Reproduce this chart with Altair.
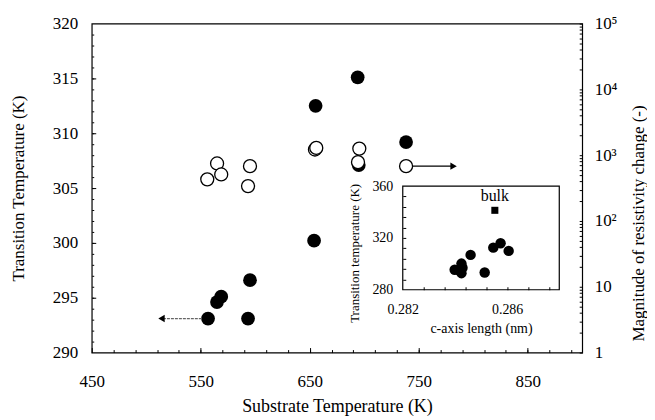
import altair as alt
import pandas as pd

# ---------------- data ----------------
# Transition temperature (filled circles, left axis)
tc_substrate = [556.7, 564.9, 568.8, 593.4, 595.2, 654.0, 655.4, 694.0, 695.0, 738.4]
tc_values = [293.1, 294.6, 295.1, 293.1, 296.6, 300.2, 312.5, 315.1, 307.1, 309.2]

# Magnitude of resistivity change (open circles, right log axis)
res_substrate = [556.0, 565.0, 568.8, 593.4, 595.2, 654.8, 656.0, 694.3, 695.5, 738.4]
res_values = [429, 749, 509, 339, 681, 1220, 1290, 783, 1260, 681]

# Inset: transition temperature vs c-axis length
inset_c = [0.28399, 0.28416, 0.28425, 0.28429, 0.28425, 0.28460, 0.28514, 0.28547, 0.28575, 0.28606]
inset_tc = [295.4, 295.1, 300.2, 297.0, 292.8, 306.9, 293.3, 312.5, 315.9, 310.0]
bulk_c = [0.28553]
bulk_tc = [341.3]
bulk_label = ["bulk"]
bulk_label_tc = [352.0]

# Arrows (start, end) in data units
arrow_left_x = [551.0, 514.0]
arrow_left_y = [293.1]
arrow_right_x = [744.0, 782.0]
arrow_right_y = [681.0]

# Axis domains / ticks
x_domain = [450, 900]
y_domain = [290, 320]
r_domain = [1, 100000]
c_domain = [0.282, 0.288]
ti_domain = [280, 360]

x_labels = [450, 550, 650, 750, 850]
y_labels = [290, 295, 300, 305, 310, 315, 320]
r_labels = [1, 10, 100, 1000, 10000, 100000]
c_labels = [0.282, 0.286]
ti_labels = [280, 320, 360]

x_minor = list(range(470, 900, 20))
x_major = list(range(450, 900, 100))
y_minor = list(range(291, 320))
y_major = list(range(295, 320, 5))
r_ticks = [m * 10 ** k for k in range(0, 5) for m in range(1, 10)] + [100000]
c_ticks = [round(0.282 + 0.0008 * i, 4) for i in range(1, 8)]
ti_ticks = list(range(288, 360, 8))

W, H = 492, 330
INSET_X = [312, 469]
INSET_Y = [267, 163]

FONT = "Liberation Serif"

# ---------------- tables ----------------
df_tc = pd.DataFrame({"T": tc_substrate, "Tc": tc_values})
df_res = pd.DataFrame({"T": res_substrate, "R": res_values})
df_inset = pd.DataFrame({"c": inset_c, "tc": inset_tc})
df_bulk = pd.DataFrame({"c": bulk_c, "tc": bulk_tc})
df_bulk_lbl = pd.DataFrame({"c": bulk_c, "tc": bulk_label_tc, "t": bulk_label})
df_frame = pd.DataFrame({"c0": [c_domain[0]], "c1": [c_domain[1]],
                         "t0": [ti_domain[0]], "t1": [ti_domain[1]]})
df_al = pd.DataFrame({"x0": [arrow_left_x[0]], "x1": [arrow_left_x[1]], "y": arrow_left_y})
df_ar = pd.DataFrame({"x0": [arrow_right_x[0]], "x1": [arrow_right_x[1]], "y": arrow_right_y})


def sx():
    return alt.Scale(domain=x_domain, nice=False, zero=False)


def sy():
    return alt.Scale(domain=y_domain, nice=False, zero=False)


def sr():
    return alt.Scale(type="log", domain=r_domain, nice=False)


def sc():
    return alt.Scale(domain=c_domain, range=INSET_X, nice=False, zero=False)


def st():
    return alt.Scale(domain=ti_domain, range=INSET_Y, nice=False, zero=False)


def tick_axis(orient, offset, values, size):
    return alt.Axis(orient=orient, offset=offset, values=values, tickSize=size,
                    labels=False, domain=False, grid=False, title=None,
                    tickColor="black", tickWidth=1)


# ---------------- layers ----------------
frame = alt.Chart(df_frame).mark_rect(filled=False, stroke="black", strokeWidth=1.2).encode(
    x=alt.X("c0:Q", scale=sc(), axis=alt.Axis(
        orient="bottom", offset=-(H - INSET_Y[0]), values=c_labels, format=".3f",
        ticks=False, domain=False, grid=False, labelFlush=False, labelPadding=13,
        labelFontSize=14, title="c-axis length (nm)", titleFontSize=14, titlePadding=5)),
    x2="c1:Q",
    y=alt.Y("t0:Q", scale=st(), axis=alt.Axis(
        orient="left", offset=-INSET_X[0], values=ti_labels, ticks=False, domain=False,
        grid=False, labelPadding=10, labelFontSize=14, title="Transition temperature (K)",
        titleFontSize=13, titlePadding=10, titleY=230)),
    y2="t1:Q",
)

filled_pts = alt.Chart(df_tc).mark_point(shape="circle", filled=True, color="black",
                                         size=190, opacity=1).encode(
    x=alt.X("T:Q", scale=sx(), axis=alt.Axis(
        orient="bottom", values=x_labels, ticks=False, domain=False, grid=False,
        labelFlush=False, labelPadding=21, title="Substrate Temperature (K)",
        titleFontSize=18, titlePadding=8)),
    y=alt.Y("Tc:Q", scale=sy(), axis=alt.Axis(
        orient="left", values=y_labels, ticks=False, domain=False, grid=False,
        labelPadding=14, title="Transition Temperature (K)", titlePadding=25)),
)

open_pts = alt.Chart(df_res).mark_point(shape="circle", filled=True, fill="white",
                                        stroke="black", strokeWidth=1.3, size=170,
                                        opacity=1).encode(
    x=alt.X("T:Q", scale=sx(), axis=tick_axis("top", -H, x_minor, 3)),
    y=alt.Y("R:Q", scale=sr(), axis=alt.Axis(
        orient="right", values=r_labels, ticks=False, domain=False, grid=False,
        labelPadding=12, labelAlign="left",
        labelExpr="datum.value == 1 ? '1' : datum.value == 10 ? '10' : "
                  "datum.value == 100 ? '10²' : datum.value == 1000 ? '10³' : "
                  "datum.value == 10000 ? '10⁴' : '10⁵'",
        title="Magnitude of resistivity change (-)", titleAngle=270,
        titlePadding=31, titleY=200)),
)

arrow_l = alt.Chart(df_al).mark_rule(color="#666666", strokeWidth=1.3,
                                     strokeDash=[3, 1]).encode(
    x=alt.X("x0:Q", scale=sx(), axis=tick_axis("top", -H, x_major, 5)),
    x2="x1:Q",
    y=alt.Y("y:Q", scale=sy(), axis=tick_axis("right", -W, y_minor, 2)),
)

arrow_l_head = alt.Chart(df_al).mark_point(shape="triangle-left", filled=True,
                                           color="black", size=55, opacity=1).encode(
    x=alt.X("x1:Q", scale=sx(), axis=None),
    y=alt.Y("y:Q", scale=sy(), axis=tick_axis("right", -W, y_major, 4)),
)

arrow_r = alt.Chart(df_ar).mark_rule(color="black", strokeWidth=1.3).encode(
    x=alt.X("x0:Q", scale=sx(), axis=None),
    x2="x1:Q",
    y=alt.Y("y:Q", scale=sr(), axis=tick_axis("left", -W, r_ticks, 3)),
)

arrow_r_head = alt.Chart(df_ar).mark_point(shape="triangle-right", filled=True,
                                           color="black", size=55, opacity=1).encode(
    x=alt.X("x1:Q", scale=sx(), axis=None),
    y=alt.Y("y:Q", scale=sr(), axis=None),
)

inset_pts = alt.Chart(df_inset).mark_point(shape="circle", filled=True, color="black",
                                           size=110, opacity=1).encode(
    x=alt.X("c:Q", scale=sc(), axis=tick_axis("top", -INSET_Y[0], c_ticks, 3)),
    y=alt.Y("tc:Q", scale=st(), axis=tick_axis("right", -(W - INSET_X[0]), ti_ticks, 3)),
)

bulk_pt = alt.Chart(df_bulk).mark_point(shape="square", filled=True, color="black",
                                        size=50, opacity=1).encode(
    x=alt.X("c:Q", scale=sc(), axis=None),
    y=alt.Y("tc:Q", scale=st(), axis=None),
)

bulk_txt = alt.Chart(df_bulk_lbl).mark_text(font=FONT, fontSize=16, color="black",
                                            baseline="middle", align="center").encode(
    x=alt.X("c:Q", scale=sc(), axis=None),
    y=alt.Y("tc:Q", scale=st(), axis=None),
    text="t:N",
)

chart = alt.layer(
    frame, filled_pts, open_pts, arrow_l, arrow_l_head, arrow_r, arrow_r_head,
    inset_pts, bulk_pt, bulk_txt,
).resolve_scale(x="independent", y="independent").resolve_axis(
    x="independent", y="independent"
).properties(
    width=W, height=H, background="white",
    padding={"left": 1, "top": 6, "right": 0, "bottom": 0},
).configure_view(
    stroke="black", strokeWidth=1.2
).configure_axis(
    labelFont=FONT, titleFont=FONT, labelFontSize=17, titleFontSize=17,
    labelColor="black", titleColor="black", titleFontWeight="normal",
)

chart.save("out.html", embed_options={"renderer": "svg", "actions": False})
